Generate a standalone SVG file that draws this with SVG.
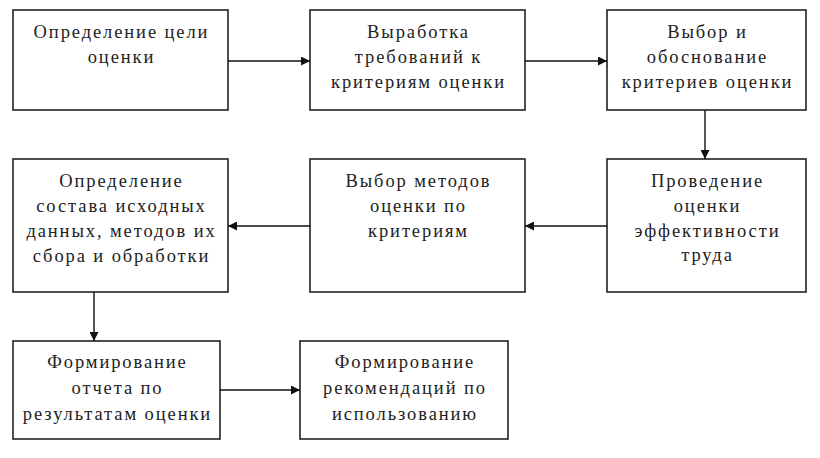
<svg xmlns="http://www.w3.org/2000/svg" width="820" height="458" viewBox="0 0 820 458">
<defs>
<style>
rect.box{fill:#fff;stroke:#222;stroke-width:1.6}
text{font-family:"Liberation Serif","Times New Roman",serif;font-size:18.5px;fill:#222;text-anchor:middle;letter-spacing:1.9px}
.conn line{stroke:#111;stroke-width:1.4}
</style>
<marker id="ah" viewBox="0 0 10 10" refX="10" refY="5" markerWidth="11" markerHeight="9" markerUnits="userSpaceOnUse" orient="auto">
<path d="M0,0 L10,5 L0,10 z" fill="#111"/>
</marker>
</defs>
<rect width="820" height="458" fill="#fff"/>
<g id="n1"><rect class="box" x="13" y="10" width="215" height="100"/>
<text x="121.5" y="38">Определение цели</text><text x="121.5" y="63">оценки</text></g>
<g id="n2"><rect class="box" x="310" y="10" width="215" height="100"/>
<text x="418.5" y="38">Выработка</text><text x="418.5" y="63">требований к</text><text x="418.5" y="88">критериям оценки</text></g>
<g id="n3"><rect class="box" x="607" y="10" width="199" height="100"/>
<text x="707.5" y="38">Выбор и</text><text x="707.5" y="63">обоснование</text><text x="707.5" y="88">критериев оценки</text></g>
<g id="n4"><rect class="box" x="13" y="159" width="215" height="133"/>
<text x="121.5" y="187">Определение</text><text x="121.5" y="212">состава исходных</text><text x="121.5" y="237">данных, методов их</text><text x="121.5" y="262">сбора и обработки</text></g>
<g id="n5"><rect class="box" x="310" y="159" width="215" height="133"/>
<text x="418.5" y="187">Выбор методов</text><text x="418.5" y="212">оценки по</text><text x="418.5" y="237">критериям</text></g>
<g id="n6"><rect class="box" x="607" y="159" width="199" height="133"/>
<text x="707.5" y="187">Проведение</text><text x="707.5" y="212">оценки</text><text x="707.5" y="237">эффективности</text><text x="707.5" y="261">труда</text></g>
<g id="n7"><rect class="box" x="13" y="341" width="207" height="98"/>
<text x="117.5" y="368">Формирование</text><text x="117.5" y="394">отчета по</text><text x="117.5" y="420">результатам оценки</text></g>
<g id="n8"><rect class="box" x="300" y="341" width="208" height="98"/>
<text x="405" y="368">Формирование</text><text x="405" y="394">рекомендаций по</text><text x="405" y="420">использованию</text></g>
<g class="conn">
<line x1="228" y1="61" x2="310" y2="61" marker-end="url(#ah)"/>
<line x1="525" y1="61" x2="607" y2="61" marker-end="url(#ah)"/>
<line x1="705" y1="110" x2="705" y2="159" marker-end="url(#ah)"/>
<line x1="607" y1="226" x2="525" y2="226" marker-end="url(#ah)"/>
<line x1="310" y1="226" x2="228" y2="226" marker-end="url(#ah)"/>
<line x1="94" y1="292" x2="94" y2="341" marker-end="url(#ah)"/>
<line x1="220" y1="390" x2="300" y2="390" marker-end="url(#ah)"/>
</g>
</svg>
